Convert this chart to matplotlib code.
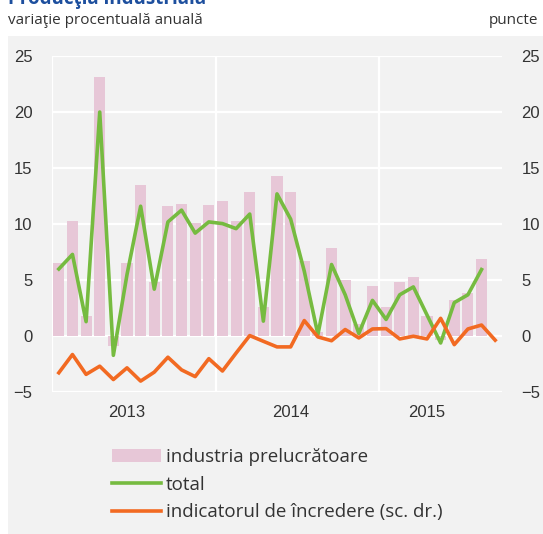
import numpy as np
import matplotlib.pyplot as plt
from matplotlib.patches import Rectangle

# monthly data, Jan 2013 - Sep 2015
industria = [6.5, 10.3, 1.8, 23.1, -0.9, 6.5, 13.5, 4.8, 11.6, 11.8, 10.1, 11.75,
             12.05, 10.3, 12.9, 2.6, 14.3, 12.9, 6.7, 0.4, 7.9, 5.0, 1.1, 4.5,
             2.6, 4.85, 5.25, 1.85, -0.3, 3.2, 3.9, 6.9, np.nan]
total = [6.0, 7.3, 1.3, 20.0, -1.7, 5.5, 11.6, 4.2, 10.2, 11.25, 9.2, 10.2,
         10.05, 9.6, 10.9, 1.35, 12.7, 10.45, 5.8, 0.15, 6.4, 3.7, 0.25, 3.2,
         1.5, 3.7, 4.4, 1.9, -0.6, 3.0, 3.7, 5.95, np.nan]
incredere = [-3.26, -1.63, -3.4, -2.67, -3.86, -2.82, -4.0, -3.2, -1.87, -3.0, -3.6, -2.0,
             -3.1, -1.5, 0.06, -0.45, -0.95, -0.95, 1.4, -0.06, -0.4, 0.6, -0.15, 0.65,
             0.68, -0.24, 0.0, -0.24, 1.6, -0.75, 0.65, 1.0, -0.35]
years = ['2013', '2014', '2015']
year_pos = [5, 17, 27]
year_bounds = [11.5, 23.5]
yticks = [-5, 0, 5, 10, 15, 20, 25]

BG = '#f2f2f2'
PINK = '#e7c7d7'
GREEN = '#76bb40'
ORANGE = '#f26a22'
TXT = '#333333'
TICKFONT = ['Liberation Sans', 'DejaVu Sans']

fig = plt.figure(figsize=(5.43, 5.34), dpi=100)
fig.patch.set_facecolor('white')
fig.patches.append(Rectangle((8/543, 0), 1, 1 - 36/534, transform=fig.transFigure,
                             facecolor=BG, edgecolor='none', zorder=-10))

# title is cropped at the top edge in the original
fig.text(8/543, 1 - 4/534, 'Producţia industrială', fontsize=13.5, fontweight='bold',
         color='#1d4f9e', family='Open Sans', va='baseline', ha='left')
fig.text(8/543, 1 - 21/534, 'variaţie procentuală anuală', fontsize=11,
         color=TXT, family='Open Sans', va='center', ha='left')
fig.text(538/543, 1 - 21/534, 'puncte', fontsize=11,
         color=TXT, family='Open Sans', va='center', ha='right')

ax = fig.add_axes([52/543, 1 - 392.3/534, 450/543, 336.3/534])
ax.set_facecolor(BG)
x = np.arange(len(industria))
bars = ax.bar(x, industria, width=0.81, color=PINK, zorder=2, label='industria prelucrătoare')
ln1, = ax.plot(x, total, color=GREEN, lw=2.6, zorder=3, label='total')

ax2 = ax.twinx()
ln2, = ax2.plot(x, incredere, color=ORANGE, lw=2.6, zorder=3,
                label='indicatorul de încredere (sc. dr.)')

for a in (ax, ax2):
    a.set_ylim(-5, 25)
    a.set_yticks(yticks)
    for s in a.spines.values():
        s.set_visible(False)
    a.tick_params(length=0, labelsize=12, labelcolor=TXT, pad=14)
    for lab in a.get_yticklabels():
        lab.set_family(TICKFONT)
ax.set_xlim(-0.5, 32.5)
ax.set_xticks(year_pos)
ax.set_xticklabels(years)
ax.tick_params(axis='x', pad=9)
for lab in ax.get_xticklabels():
    lab.set_family(TICKFONT)
    lab.set_fontsize(12)

for yv in yticks:
    ax.axhline(yv, color='white', lw=1.6, zorder=1)
for xv in year_bounds:
    ax.axvline(xv, color='white', lw=1.6, zorder=1)
ax.axvline(-0.5, color='white', lw=1.6, zorder=1)

fig.legend([bars, ln1, ln2], [bars.get_label(), ln1.get_label(), ln2.get_label()],
           loc='upper left', bbox_to_anchor=(95/543, 1 - 431/534),
           frameon=False, handlelength=2.6, handletextpad=0.27,
           labelspacing=0.52, prop={'family': 'Open Sans', 'size': 13.5},
           labelcolor=TXT)

fig.savefig('out.png', dpi=100, facecolor=fig.get_facecolor())
